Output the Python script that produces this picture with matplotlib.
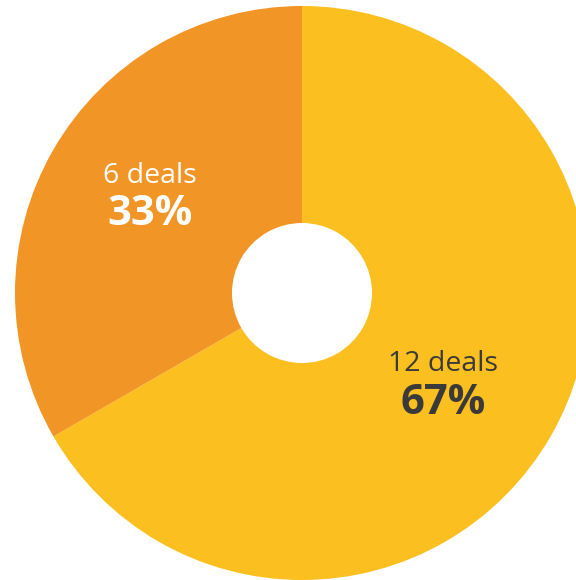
import numpy as np
import matplotlib
matplotlib.use("Agg")
import matplotlib.pyplot as plt

# Deal counts by category
categories = ["12 deals", "6 deals"]
deals = [12, 6]
shares = ["67%", "33%"]
colors = ["#FBBF1F", "#F29527"]
text_colors = ["#3a3a3a", "#ffffff"]

W, H = 576, 580
fig = plt.figure(figsize=(W / 100, H / 100), dpi=100)
ax = fig.add_axes([0, 0, 1, 1])

cx, cy = 302, H - 293
radius = 287
hole = 70

wedges, _ = ax.pie(
    deals,
    colors=colors,
    startangle=90,
    counterclock=False,
    center=(cx, cy),
    radius=radius,
    wedgeprops=dict(width=radius - hole, linewidth=0),
    frame=True,
)
ax.set_xlim(0, W)
ax.set_ylim(0, H)
ax.set_aspect("equal")
ax.axis("off")

# label anchors: fraction of radius, and angular nudge from the wedge midpoint
label_r = [0.585, 0.630]
label_dtheta = [-2.9, -2.6]
for w, cat, sh, tc, lr, dt in zip(wedges, categories, shares, text_colors,
                                  label_r, label_dtheta):
    mid = np.deg2rad((w.theta1 + w.theta2) / 2 + dt)
    x = cx + radius * lr * np.cos(mid)
    y = cy + radius * lr * np.sin(mid)
    ax.text(x, y + 20, cat, ha="center", va="center", color=tc,
            fontsize=20.5, family="Open Sans")
    ax.text(x, y - 19, sh, ha="center", va="center", color=tc,
            fontsize=30, fontweight="bold", family="Open Sans")

fig.savefig("out.png", dpi=100)
